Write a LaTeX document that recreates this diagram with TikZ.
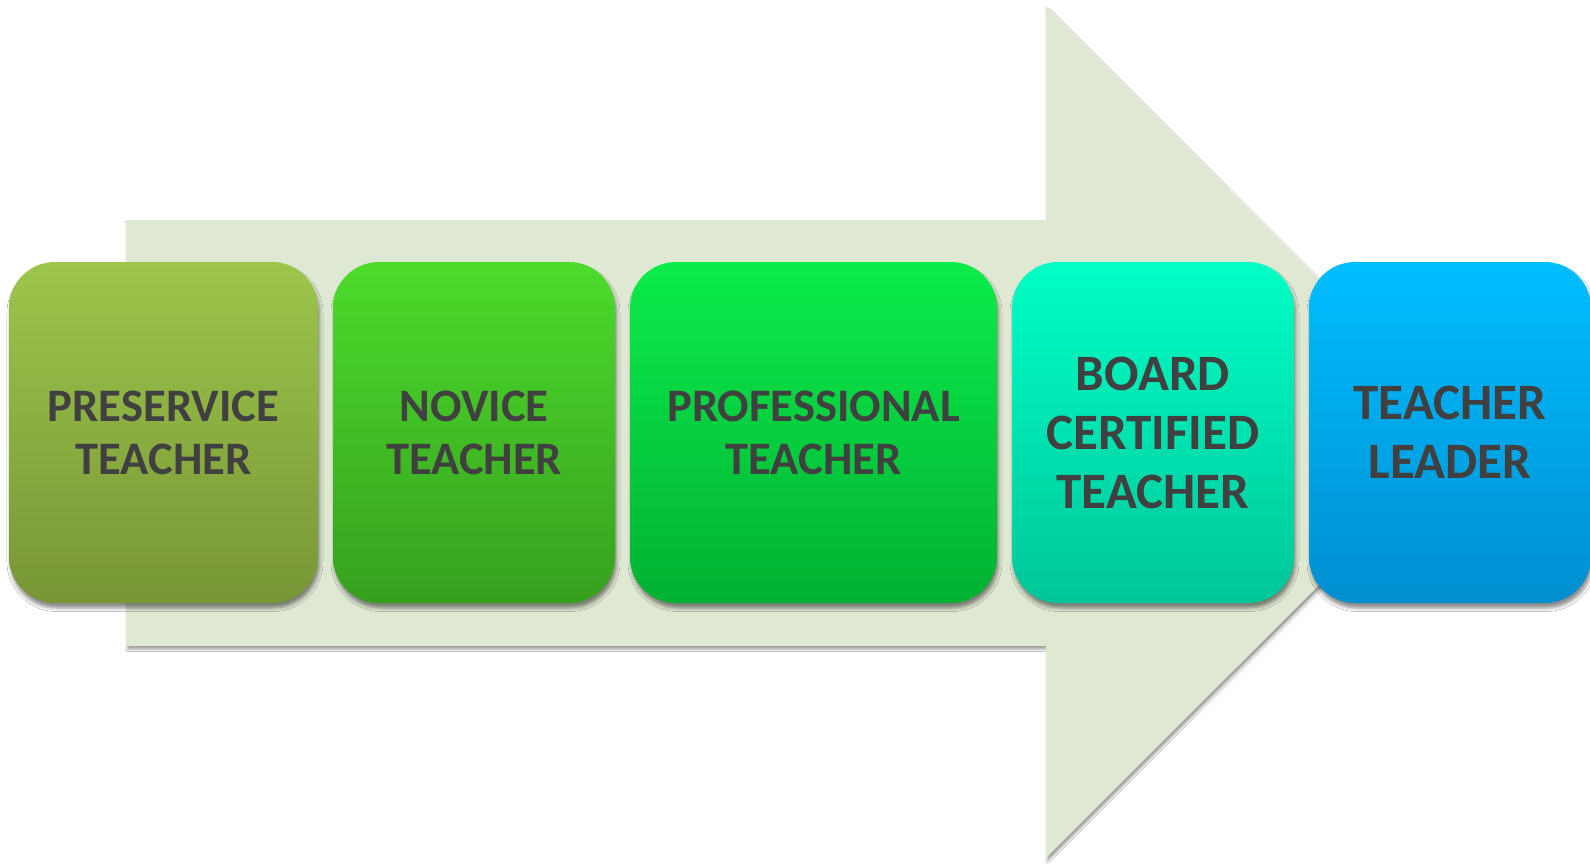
\documentclass[tikz,border=0pt]{standalone}
\usepackage{fontspec}
\setmainfont{Carlito}
\usetikzlibrary{shadows.blur}
\definecolor{arrowfill}{HTML}{DFE8D3}
\definecolor{txt}{HTML}{404040}
\definecolor{aT}{HTML}{9DC54B}\definecolor{aB}{HTML}{789636}
\definecolor{bT}{HTML}{4CDB2B}\definecolor{bB}{HTML}{37A01F}
\definecolor{cT}{HTML}{0BEC4B}\definecolor{cB}{HTML}{02B133}
\definecolor{dT}{HTML}{00FFC6}\definecolor{dB}{HTML}{00C69A}
\definecolor{eT}{HTML}{00BEFF}\definecolor{eB}{HTML}{008FD1}
\tikzset{
  stagebox/.style={rounded corners=46pt, minimum height=341pt, inner sep=0pt,
    align=center, text=txt, font=\fontsize{46.6}{53}\selectfont\bfseries,
    blur shadow={shadow xshift=1.5pt, shadow yshift=-5pt, shadow blur radius=3.5pt, shadow opacity=45}},
  bigtext/.style={font=\fontsize{51}{59}\selectfont\bfseries},
}
\begin{document}
\begin{tikzpicture}[x=1pt,y=-1pt]
\useasboundingbox (0,0) rectangle (1590,865);
\fill[white] (0,0) rectangle (1590,865);
% big arrow
\coordinate (s1) at (126,220);
\coordinate (s2) at (1046,220);
\coordinate (h1) at (1046,7);
\coordinate (tip) at (1472,432.5);
\coordinate (h2) at (1046,858);
\coordinate (s3) at (1046,646);
\coordinate (s4) at (126,646);
\fill[arrowfill, blur shadow={shadow xshift=1.5pt, shadow yshift=-3pt, shadow blur radius=2.5pt, shadow opacity=40}]
  (s1) -- (s2) -- (h1) -- (tip) -- (h2) -- (s3) -- (s4) -- cycle;
% stage boxes
\node[stagebox, minimum width=309pt, top color=aT, bottom color=aB] (b1) at (163.5,432.5) {PRESERVICE\\TEACHER};
\node[stagebox, minimum width=282pt, top color=bT, bottom color=bB] (b2) at (474,432.5) {NOVICE\\TEACHER};
\node[stagebox, minimum width=367pt, top color=cT, bottom color=cB] (b3) at (813.5,432.5) {PROFESSIONAL\\TEACHER};
\node[stagebox, bigtext, minimum width=282pt, top color=dT, bottom color=dB] (b4) at (1153,432.5) {BOARD\\CERTIFIED\\TEACHER};
\node[stagebox, bigtext, minimum width=282pt, top color=eT, bottom color=eB] (b5) at (1450,432.5) {TEACHER\\LEADER};
\end{tikzpicture}
\end{document}
